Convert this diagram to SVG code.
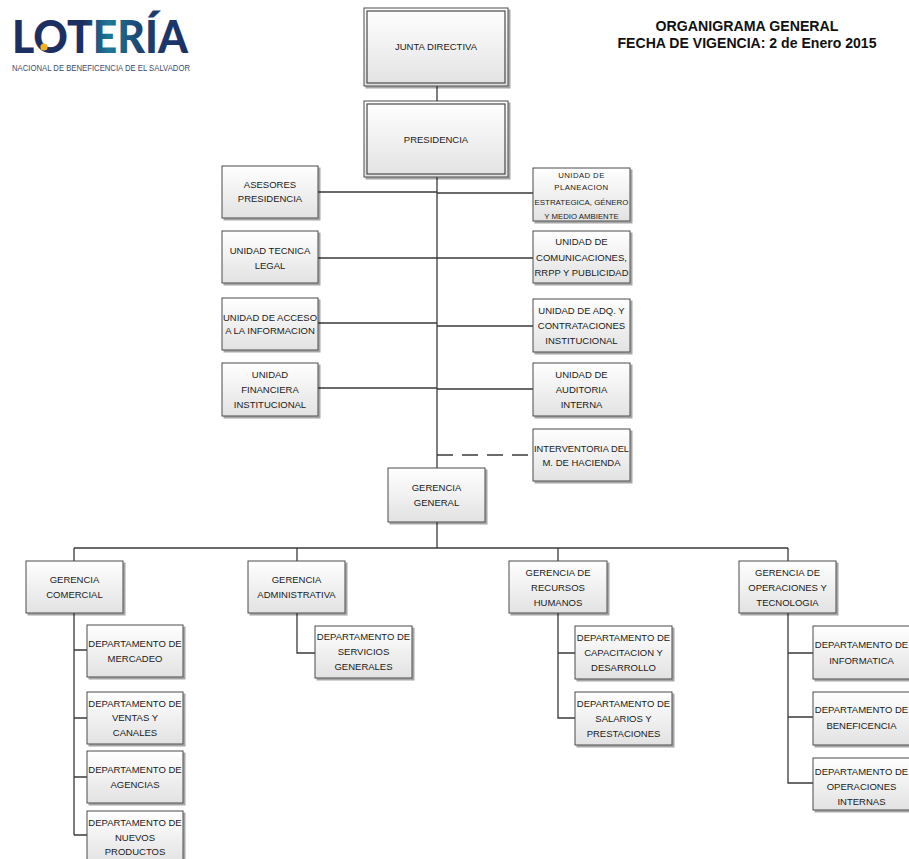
<svg xmlns="http://www.w3.org/2000/svg" width="909" height="859" viewBox="0 0 909 859">
<defs>
<linearGradient id="bg" x1="0" y1="0" x2="0" y2="1">
<stop offset="0" stop-color="#ffffff"/>
<stop offset="1" stop-color="#e2e2e2"/>
</linearGradient>
<linearGradient id="logoG" x1="0" y1="0" x2="1" y2="0">
<stop offset="0" stop-color="#1c2f63"/>
<stop offset="0.4" stop-color="#1c2f63"/>
<stop offset="0.55" stop-color="#1f7896"/>
<stop offset="0.75" stop-color="#1c3f70"/>
<stop offset="1" stop-color="#1c2f63"/>
</linearGradient>
<filter id="sh" x="-10%" y="-10%" width="130%" height="130%">
<feDropShadow dx="2" dy="2" stdDeviation="0.7" flood-color="#000" flood-opacity="0.35"/>
</filter>
</defs>
<style>
.b{fill:url(#bg);stroke:#4a4a4a;stroke-width:1;filter:url(#sh)}
.in{fill:none;stroke:#4a4a4a;stroke-width:1.2}
.t{font-family:"Liberation Sans",Arial,sans-serif;font-size:9.5px;fill:#1a1a1a;text-anchor:middle}
.s{font-size:7.8px}
.c{fill:none;stroke:#3a3a3a;stroke-width:1.3}
.d{fill:none;stroke:#3a3a3a;stroke-width:1.3;stroke-dasharray:16 9}
.h{font-family:"Liberation Sans",Arial,sans-serif;font-weight:bold;font-size:15px;fill:#111;text-anchor:middle}
</style>
<rect width="909" height="859" fill="#ffffff"/>

<g id="logo">
<text x="12" y="53" font-family="Lato,'Open Sans',sans-serif" font-weight="900" font-size="46" fill="url(#logoG)" textLength="176" lengthAdjust="spacingAndGlyphs">LOTERÍA</text>
<circle cx="44" cy="47" r="3.6" fill="#f3b320"/>
<text x="12" y="71" font-family="'Liberation Sans',Arial,sans-serif" font-size="8.2" fill="#3d4b70" textLength="178" lengthAdjust="spacingAndGlyphs">NACIONAL DE BENEFICENCIA DE EL SALVADOR</text>
</g>

<g id="title">
<text class="h" x="747" y="31" textLength="183" lengthAdjust="spacingAndGlyphs">ORGANIGRAMA GENERAL</text>
<text class="h" x="747" y="47.5" textLength="259" lengthAdjust="spacingAndGlyphs">FECHA DE VIGENCIA: 2 de Enero 2015</text>
</g>

<g id="connectors">
<path class="c" d="M437 86V101M437 177V390M437 522V548"/>
<path class="c" d="M437 390V468" stroke="#555" stroke-width="1.1"/>
<path class="c" d="M318 192H437M437 193H533M318 258H533M318 323H437M437 326H533M318 388H437M437 389H533"/>
<path class="d" d="M437 455H533"/>
<path class="c" d="M74 548H788M74 548V561M297 548V561M558 548V561M788 548V561"/>
<path class="c" d="M74 613V835M74 650H87M74 718H87M74 777H87M74 835H87"/>
<path class="c" d="M297 613V653H315"/>
<path class="c" d="M558 613V718H575M558 653H575"/>
<path class="c" d="M788 613V783H813M788 653H813M788 717H813"/>
</g>

<g id="junta">
<rect class="b" x="364" y="8" width="144" height="78"/>
<rect class="in" x="367" y="11" width="138" height="72"/>
<text class="t" x="436" y="50">JUNTA DIRECTIVA</text>
</g>
<g id="presidencia">
<rect class="b" x="364" y="101" width="144" height="76"/>
<rect class="in" x="367" y="104" width="138" height="70"/>
<text class="t" x="436" y="142.5">PRESIDENCIA</text>
</g>

<g id="asesores">
<rect class="b" x="222" y="166" width="96" height="52"/>
<text class="t" x="270" y="188.4">ASESORES</text>
<text class="t" x="270" y="202.4">PRESIDENCIA</text>
</g>
<g id="tecnica">
<rect class="b" x="222" y="231" width="96" height="52"/>
<text class="t" x="270" y="254">UNIDAD TECNICA</text>
<text class="t" x="270" y="269">LEGAL</text>
</g>
<g id="acceso">
<rect class="b" x="222" y="298" width="96" height="52"/>
<text class="t" x="270" y="321.4" textLength="94" lengthAdjust="spacingAndGlyphs">UNIDAD DE ACCESO</text>
<text class="t" x="270" y="334.4">A LA INFORMACION</text>
</g>
<g id="financiera">
<rect class="b" x="222" y="363" width="96" height="53"/>
<text class="t" x="270" y="378.4">UNIDAD</text>
<text class="t" x="270" y="393">FINANCIERA</text>
<text class="t" x="270" y="408">INSTITUCIONAL</text>
</g>

<g id="planeacion">
<rect class="b" x="533" y="168" width="97" height="53"/>
<text class="t s" x="581.5" y="177.8" letter-spacing="0.4">UNIDAD DE</text>
<text class="t s" x="581.5" y="190" letter-spacing="0.4">PLANEACION</text>
<text class="t s" x="581.5" y="204.8" textLength="94" lengthAdjust="spacingAndGlyphs">ESTRATEGICA, GÉNERO</text>
<text class="t s" x="581.5" y="218.5">Y MEDIO AMBIENTE</text>
</g>
<g id="comunicaciones">
<rect class="b" x="533" y="231" width="97" height="52"/>
<text class="t" x="581.5" y="245.4">UNIDAD DE</text>
<text class="t" x="581.5" y="260.8">COMUNICACIONES,</text>
<text class="t" x="581.5" y="276" textLength="94" lengthAdjust="spacingAndGlyphs">RRPP Y PUBLICIDAD</text>
</g>
<g id="adq">
<rect class="b" x="533" y="299" width="97" height="53"/>
<text class="t" x="581.5" y="314">UNIDAD DE ADQ. Y</text>
<text class="t" x="581.5" y="329">CONTRATACIONES</text>
<text class="t" x="581.5" y="344">INSTITUCIONAL</text>
</g>
<g id="auditoria">
<rect class="b" x="533" y="363" width="97" height="53"/>
<text class="t" x="581.5" y="378.4">UNIDAD DE</text>
<text class="t" x="581.5" y="393.2">AUDITORIA</text>
<text class="t" x="581.5" y="408">INTERNA</text>
</g>
<g id="interventoria">
<rect class="b" x="533" y="429" width="97" height="52"/>
<text class="t" x="581.5" y="452" textLength="95" lengthAdjust="spacingAndGlyphs">INTERVENTORIA DEL</text>
<text class="t" x="581.5" y="466.4">M. DE HACIENDA</text>
</g>

<g id="gerencia-general">
<rect class="b" x="388" y="468" width="97" height="54"/>
<text class="t" x="436.5" y="491.2">GERENCIA</text>
<text class="t" x="436.5" y="506">GENERAL</text>
</g>

<g id="g-comercial">
<rect class="b" x="26" y="561" width="97" height="52"/>
<text class="t" x="74.5" y="583.4">GERENCIA</text>
<text class="t" x="74.5" y="597.8">COMERCIAL</text>
</g>
<g id="g-administrativa">
<rect class="b" x="248" y="561" width="97" height="52"/>
<text class="t" x="296.5" y="583.4">GERENCIA</text>
<text class="t" x="296.5" y="597.8">ADMINISTRATIVA</text>
</g>
<g id="g-rrhh">
<rect class="b" x="509" y="561" width="98" height="52"/>
<text class="t" x="558" y="576.4">GERENCIA DE</text>
<text class="t" x="558" y="591">RECURSOS</text>
<text class="t" x="558" y="605.6">HUMANOS</text>
</g>
<g id="g-operaciones">
<rect class="b" x="739" y="561" width="97" height="52"/>
<text class="t" x="787.5" y="576.4">GERENCIA DE</text>
<text class="t" x="787.5" y="591">OPERACIONES Y</text>
<text class="t" x="787.5" y="605.6">TECNOLOGIA</text>
</g>

<g id="d-mercadeo">
<rect class="b" x="87" y="625" width="96" height="52"/>
<text class="t" x="135" y="647.4">DEPARTAMENTO DE</text>
<text class="t" x="135" y="661.8">MERCADEO</text>
</g>
<g id="d-ventas">
<rect class="b" x="87" y="692" width="96" height="52"/>
<text class="t" x="135" y="706.9">DEPARTAMENTO DE</text>
<text class="t" x="135" y="721.4">VENTAS Y</text>
<text class="t" x="135" y="735.9">CANALES</text>
</g>
<g id="d-agencias">
<rect class="b" x="87" y="751" width="96" height="52"/>
<text class="t" x="135" y="773.4">DEPARTAMENTO DE</text>
<text class="t" x="135" y="787.8">AGENCIAS</text>
</g>
<g id="d-nuevos">
<rect class="b" x="87" y="811" width="96" height="53"/>
<text class="t" x="135" y="826.4">DEPARTAMENTO DE</text>
<text class="t" x="135" y="840.9">NUEVOS</text>
<text class="t" x="135" y="855.4">PRODUCTOS</text>
</g>

<g id="d-servicios">
<rect class="b" x="315" y="626" width="97" height="52"/>
<text class="t" x="363.5" y="640.4">DEPARTAMENTO DE</text>
<text class="t" x="363.5" y="655">SERVICIOS</text>
<text class="t" x="363.5" y="669.6">GENERALES</text>
</g>

<g id="d-capacitacion">
<rect class="b" x="575" y="626" width="97" height="53"/>
<text class="t" x="623.5" y="641.4">DEPARTAMENTO DE</text>
<text class="t" x="623.5" y="656">CAPACITACION Y</text>
<text class="t" x="623.5" y="670.6">DESARROLLO</text>
</g>
<g id="d-salarios">
<rect class="b" x="575" y="692" width="97" height="53"/>
<text class="t" x="623.5" y="707.4">DEPARTAMENTO DE</text>
<text class="t" x="623.5" y="722">SALARIOS Y</text>
<text class="t" x="623.5" y="736.6">PRESTACIONES</text>
</g>

<g id="d-informatica">
<rect class="b" x="813" y="626" width="97" height="53"/>
<text class="t" x="861.5" y="648">DEPARTAMENTO DE</text>
<text class="t" x="861.5" y="664">INFORMATICA</text>
</g>
<g id="d-beneficencia">
<rect class="b" x="813" y="692" width="97" height="53"/>
<text class="t" x="861.5" y="713.4">DEPARTAMENTO DE</text>
<text class="t" x="861.5" y="729.4">BENEFICENCIA</text>
</g>
<g id="d-operaciones-internas">
<rect class="b" x="813" y="758" width="97" height="52"/>
<text class="t" x="861.5" y="775.4">DEPARTAMENTO DE</text>
<text class="t" x="861.5" y="790">OPERACIONES</text>
<text class="t" x="861.5" y="804.6">INTERNAS</text>
</g>
</svg>
